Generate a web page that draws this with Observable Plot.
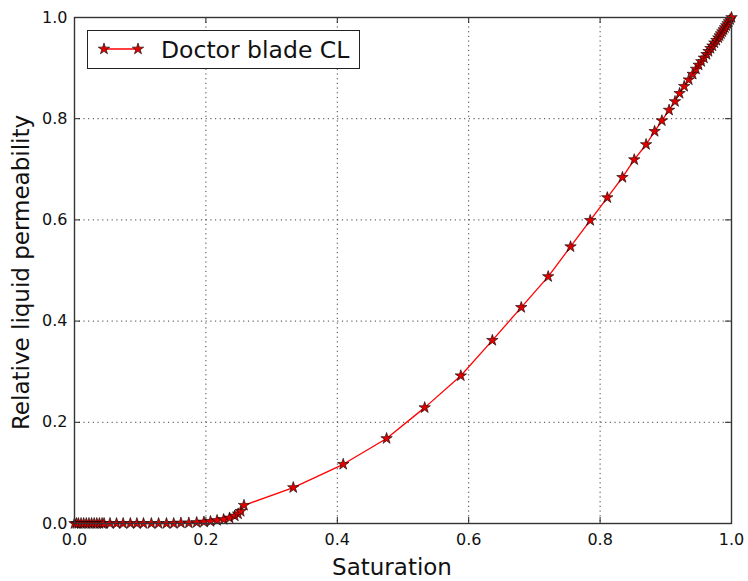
<!DOCTYPE html>
<html>
<head>
<meta charset="utf-8">
<script src="https://cdn.jsdelivr.net/npm/d3@7"></script>
<script src="https://cdn.jsdelivr.net/npm/@observablehq/plot@0.6"></script>
<style>
  body { margin: 0; background: #fff; }
  #wrap { position: relative; width: 748px; height: 581px; font-family: "DejaVu Sans", sans-serif; }
  #legend {
    position: absolute; left: 87px; top: 30px; width: 273px; height: 39px;
    border: 1.3px solid #222; background: #fff; box-sizing: border-box;
    display: flex; align-items: center;
  }
  #legend span { font-size: 23.5px; color: #111; }
</style>
</head>
<body>
<div id="wrap"></div>
<script>
// Saturation vs. relative liquid permeability, doctor blade catalyst layer
const saturation = [
  0.000, 0.003, 0.006, 0.010, 0.014, 0.018, 0.022, 0.026, 0.030, 0.034, 0.038, 0.042,
  0.045, 0.054, 0.064, 0.074, 0.085, 0.095, 0.105, 0.117, 0.128, 0.140, 0.151, 0.162,
  0.174, 0.186, 0.197, 0.207, 0.217, 0.227, 0.236, 0.244, 0.249, 0.253, 0.258,
  0.333, 0.409, 0.475, 0.533, 0.588, 0.636, 0.680, 0.721, 0.755, 0.785, 0.811, 0.834,
  0.852, 0.870, 0.883, 0.894, 0.905, 0.914, 0.921, 0.928, 0.935, 0.941, 0.946,
  0.950, 0.954, 0.958, 0.962, 0.965, 0.968, 0.971, 0.974, 0.977, 0.980, 0.982,
  0.984, 0.986, 0.988, 0.990, 0.992, 0.994, 0.996, 0.998, 1.000
];
const permeability = [
  0.000, 0.000, 0.000, 0.000, 0.000, 0.000, 0.000, 0.000, 0.000, 0.000, 0.000, 0.000,
  0.000, 0.000, 0.000, 0.000, 0.000, 0.000, 0.000, 0.000, 0.000, 0.000, 0.000, 0.001,
  0.001, 0.002, 0.003, 0.004, 0.006, 0.008, 0.011, 0.015, 0.019, 0.024, 0.036,
  0.071, 0.117, 0.168, 0.229, 0.292, 0.362, 0.427, 0.488, 0.547, 0.599, 0.644, 0.684,
  0.719, 0.749, 0.775, 0.796, 0.817, 0.834, 0.850, 0.864, 0.877, 0.888, 0.898,
  0.906, 0.913, 0.920, 0.927, 0.933, 0.939, 0.944, 0.950, 0.955, 0.960, 0.964,
  0.968, 0.972, 0.976, 0.980, 0.984, 0.988, 0.992, 0.996, 1.000
];
const tickValues = [0, 0.2, 0.4, 0.6, 0.8, 1.0];
const gridValues = [0.2, 0.4, 0.6, 0.8];
const seriesName = "Doctor blade CL";
const xLabel = "Saturation";
const yLabel = "Relative liquid permeability";

const data = saturation.map((s, i) => ({s, k: permeability[i]}));

const W = 748, H = 581;
const mL = 74, mR = 17, mT = 17, mB = 58;
const innerW = W - mL - mR, innerH = H - mT - mB;
const tickLen = 6;
const starR = 3.6;
const fmt = d => d.toFixed(1);

const chart = Plot.plot({
  width: W, height: H,
  marginLeft: mL, marginRight: mR, marginTop: mT, marginBottom: mB,
  style: {fontFamily: "DejaVu Sans, sans-serif", fontSize: "16px", color: "#111", background: "#fff"},
  x: {domain: [0, 1]},
  y: {domain: [0, 1]},
  marks: [
    // dotted grid
    Plot.ruleX(gridValues, {stroke: "#000", strokeOpacity: 0.75, strokeDasharray: "1.2,3.5", strokeWidth: 1}),
    Plot.ruleY(gridValues, {stroke: "#000", strokeOpacity: 0.75, strokeDasharray: "1.2,3.5", strokeWidth: 1}),
    // inward ticks on all four sides
    Plot.tickX(tickValues, {x: d => d, insetTop: innerH - tickLen, stroke: "#222", strokeWidth: 1}),
    Plot.tickX(tickValues, {x: d => d, insetBottom: innerH - tickLen, stroke: "#222", strokeWidth: 1}),
    Plot.tickY(tickValues, {y: d => d, insetRight: innerW - tickLen, stroke: "#222", strokeWidth: 1}),
    Plot.tickY(tickValues, {y: d => d, insetLeft: innerW - tickLen, stroke: "#222", strokeWidth: 1}),
    // tick labels
    Plot.axisX(tickValues, {tickSize: 0, tickPadding: 10, tickFormat: fmt, label: null, fill: "#111"}),
    Plot.axisY(tickValues, {tickSize: 0, tickPadding: 7, tickFormat: fmt, label: null, fill: "#111"}),
    // axis titles
    Plot.text([xLabel], {frameAnchor: "bottom", dx: -11, dy: 44, fontSize: 23, fill: "#111", lineAnchor: "middle", textAnchor: "middle"}),
    Plot.text([yLabel], {frameAnchor: "left", dx: -53, dy: 2, rotate: -90, fontSize: 23, fill: "#111", lineAnchor: "middle", textAnchor: "middle"}),
    // series
    Plot.line(data, {x: "s", y: "k", stroke: "#ff0000", strokeWidth: 1.3}),
    Plot.dot(data, {x: "s", y: "k", symbol: "star", r: starR, fill: "#e00000", stroke: "#000", strokeWidth: 0.6}),
    Plot.frame({stroke: "#333", strokeWidth: 1.4})
  ]
});

const wrap = document.getElementById("wrap");
wrap.appendChild(chart);

// legend box inside the axes, upper left
const legend = document.createElement("div");
legend.id = "legend";
const star = d3.symbol(d3.symbolStar, Math.PI * starR * starR)();
legend.innerHTML =
  `<svg width="66" height="36" style="margin-left:7px">` +
  `<line x1="9" y1="17" x2="43" y2="17" stroke="#ff0000" stroke-width="1.3"/>` +
  `<path d="${star}" transform="translate(9,17)" fill="#e00000" stroke="#000" stroke-width="0.6"/>` +
  `<path d="${star}" transform="translate(43,17)" fill="#e00000" stroke="#000" stroke-width="0.6"/>` +
  `</svg><span>${seriesName}</span>`;
wrap.appendChild(legend);
</script>
</body>
</html>
